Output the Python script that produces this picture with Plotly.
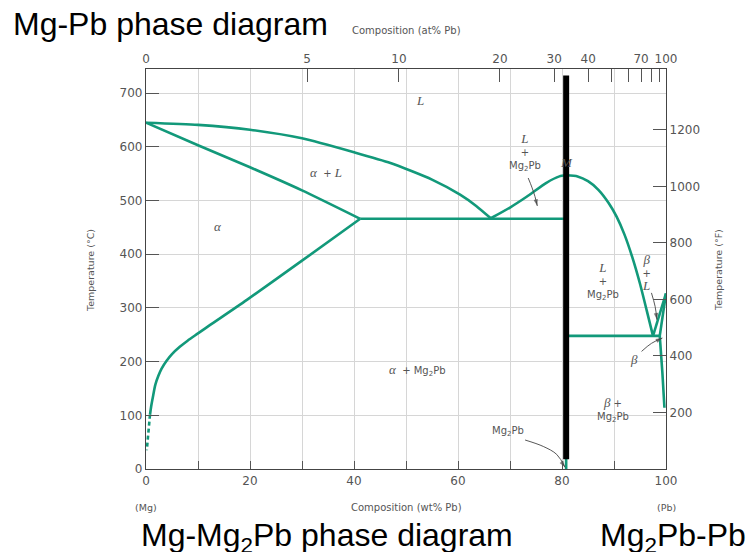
import plotly.graph_objects as go

# ---- Phase boundaries: composition in wt% Pb, temperature in degC ----
liq_mg_wt = [0, 10, 20, 30, 40, 47, 55, 60.4, 63.5, 66.3]
liq_mg_T = [645, 641, 632, 616, 590, 570, 539, 511, 490, 467]

sol_mg_wt = [0, 10, 20, 30, 41.2]
sol_mg_T = [645, 603, 562, 519, 466]

solv_mg_wt = [41.2, 30, 19.4, 12, 10, 8, 6.5, 5, 4, 3, 2.4, 1.8, 1.4, 1.0, 0.77]
solv_mg_T = [466, 388, 315, 266, 252.5, 239, 227.5, 214, 202, 187, 174, 157, 138, 117, 101]
solv_mg_dash_wt = [0.77, 0.45, 0.15]
solv_mg_dash_T = [101, 65, 35]

eut1_wt = [41.2, 80.8]
eut1_T = [466, 466]

liq_c1_wt = [66.3, 70, 73.2, 77, 79.5, 80.8]
liq_c1_T = [467, 487, 507, 533, 545, 547]

liq_c2_wt = [80.8, 83, 85, 87, 89, 90.5, 92, 93.5, 95, 96.3, 97.5]
liq_c2_T = [547, 545, 536, 520, 495, 470, 437, 395, 345, 295, 248]

eut2_wt = [80.8, 98.8]
eut2_T = [248, 248]

liq_pb_wt = [97.5, 100]
liq_pb_T = [248, 327]
sol_pb_wt = [98.8, 100]
sol_pb_T = [248, 327]
solv_pb_wt = [98.8, 99.3, 99.7]
solv_pb_T = [248, 180, 114]

compound_wt = [80.8, 80.8]
compound_T = [0, 547]

# heavy marker dividing the two sub-diagrams
divider_wt = [80.8, 80.8]
divider_T = [18, 733]

# ---- axes ----
x_range = [0, 100]
y_range = [0, 745]
f_range = [0, 1415]
wt_ticks = [0, 20, 40, 60, 80, 100]
wt_minor = [10, 30, 50, 70, 90]
c_ticks = [0, 100, 200, 300, 400, 500, 600, 700]
f_ticks = [200, 400, 600, 800, 1000, 1200]
at_ticks = [0, 5, 10, 20, 30, 40, 70, 100]
at_minor = [50, 60, 80, 90]

M_MG, M_PB = 24.305, 207.2


def at_to_wt(a):
    return 100.0 * a * M_PB / (a * M_PB + (100.0 - a) * M_MG)


GREEN = "#12997a"
TXT = "#555555"
SERIF = "Liberation Serif"
SANS = "DejaVu Sans"

fig = go.Figure()


def boundary(xs, ys, dash=None, shape="spline", smoothing=0.6):
    fig.add_trace(go.Scatter(x=xs, y=ys, mode="lines", line_shape=shape,
                             line=dict(color=GREEN, width=2.6, dash=dash, smoothing=smoothing),
                             hoverinfo="skip", showlegend=False))


for xs, ys in [(liq_mg_wt, liq_mg_T), (sol_mg_wt, sol_mg_T),
               (eut1_wt, eut1_T), (liq_c1_wt, liq_c1_T), (liq_c2_wt, liq_c2_T),
               (eut2_wt, eut2_T), (liq_pb_wt, liq_pb_T), (sol_pb_wt, sol_pb_T),
               (solv_pb_wt, solv_pb_T), (compound_wt, compound_T)]:
    boundary(xs, ys)
boundary(solv_mg_wt, solv_mg_T, smoothing=0.8)
boundary(solv_mg_dash_wt, solv_mg_dash_T, dash="4px,3px", shape="linear")

fig.add_trace(go.Scatter(x=divider_wt, y=divider_T, mode="lines",
                         line=dict(color="black", width=6),
                         hoverinfo="skip", showlegend=False))

# invisible traces that carry the secondary axes
fig.add_trace(go.Scatter(x=x_range, y=[0, 0], xaxis="x2", yaxis="y", mode="lines",
                         opacity=0, hoverinfo="skip", showlegend=False))
fig.add_trace(go.Scatter(x=x_range, y=f_range, xaxis="x", yaxis="y2", mode="lines",
                         opacity=0, hoverinfo="skip", showlegend=False))

# ---- pointer arrows (curved paths, head at last point) ----
arrow_paths = [
    ([73.5, 74.2, 74.8, 75.25], [542, 525, 507.6, 490]),
    ([97.2, 97.9, 98.25], [328, 303, 278]),
    ([95.3, 97.2, 99.3], [219, 234, 244]),
    ([72.9, 76.4, 79.0, 80.6], [54, 42, 27, 3]),
]
for xs, ys in arrow_paths:
    sizes = [0] * (len(xs) - 1) + [7]
    fig.add_trace(go.Scatter(x=xs, y=ys, mode="lines+markers", line_shape="spline",
                             line=dict(color="#444", width=0.9),
                             marker=dict(symbol="arrow", size=sizes, angleref="previous",
                                         color="#444", line=dict(width=0)),
                             hoverinfo="skip", showlegend=False))

# ---- region labels ----
def it(s):
    return f"<span style='font-family:{SERIF};font-style:italic;font-size:13px'>{s}</span>"


MG2PB = "Mg<sub>2</sub>Pb"
labels = [
    (it("L"), 52.7, 686),
    (it("α") + "  + " + it("L"), 34.6, 553),
    (it("α"), 13.8, 451),
    (it("α") + "  + " + MG2PB, 52.3, 185),
    (it("L") + "<br>+<br>" + MG2PB, 72.9, 591),
    (it("M"), 80.8, 570),
    (it("L") + "<br>+<br>" + MG2PB, 87.9, 351),
    (it("β") + "<br>+<br>" + it("L"), 96.3, 366),
    (it("β"), 93.8, 204),
    (it("β") + " +<br>" + MG2PB, 89.8, 111),
    (MG2PB, 69.6, 70),
]
annotations = []
for text, x, y in labels:
    annotations.append(dict(text=text, x=x, y=y, xref="x", yref="y", showarrow=False,
                            font=dict(family=SANS, size=10, color=TXT)))

# ---- titles and axis captions (paper coordinates) ----
captions = [
    ("Mg-Pb phase diagram", -0.2577, 1.112, "left", "middle", 0, 32, "black", "Liberation Sans"),
    ("Composition (at% Pb)", 0.5, 1.0975, "center", "middle", 0, 10, TXT, SANS),
    ("Mg-Mg<sub>2</sub>Pb phase diagram", -0.0115, -0.117, "left", "top", 0, 32, "black", "Liberation Sans"),
    ("Mg<sub>2</sub>Pb-Pb", 0.871, -0.117, "left", "top", 0, 32, "black", "Liberation Sans"),
    ("(Mg)", 0.0, -0.097, "center", "middle", 0, 9.5, TXT, SANS),
    ("Composition (wt% Pb)", 0.5, -0.097, "center", "middle", 0, 10, TXT, SANS),
    ("(Pb)", 1.0, -0.097, "center", "middle", 0, 9.5, TXT, SANS),
    ("Temperature (°C)", -0.1077, 0.4975, "center", "middle", -90, 9.5, TXT, SANS),
    ("Temperature (°F)", 1.1, 0.4975, "center", "middle", -90, 9.5, TXT, SANS),
]
for text, x, y, xa, ya, ang, size, col, fam in captions:
    annotations.append(dict(text=text, x=x, y=y, xref="paper", yref="paper",
                            xanchor=xa, yanchor=ya, textangle=ang, showarrow=False,
                            borderpad=0,
                            font=dict(family=fam, size=size, color=col)))

axis_common = dict(showline=True, linecolor="#444", linewidth=1.3, ticks="inside",
                   tickcolor="#555", tickwidth=1.2,
                   tickfont=dict(family=SANS, size=12, color=TXT), zeroline=False)

fig.update_layout(
    width=749, height=552,
    margin=dict(l=146, r=83, t=69, b=83),
    paper_bgcolor="white", plot_bgcolor="white",
    font=dict(family=SANS, color=TXT),
    annotations=annotations,
    xaxis=dict(range=x_range, tickmode="array", tickvals=wt_ticks,
               ticklen=8, showgrid=True, gridcolor="#d6d6d6", gridwidth=1.2,
               minor=dict(tickmode="array", tickvals=wt_minor, ticks="inside", ticklen=8,
                          tickcolor="#555", tickwidth=1.2, showgrid=True,
                          gridcolor="#d6d6d6", gridwidth=1.2),
               mirror=True, **axis_common),
    xaxis2=dict(range=x_range, overlaying="x", side="top", anchor="y",
                tickmode="array", tickvals=[at_to_wt(a) for a in at_ticks],
                ticktext=[str(a) for a in at_ticks],
                ticklen=13, showgrid=False,
                minor=dict(tickmode="array", tickvals=[at_to_wt(a) for a in at_minor],
                           ticks="inside", ticklen=13, tickcolor="#555", tickwidth=1.2,
                           showgrid=False),
                **axis_common),
    yaxis=dict(range=y_range, tickmode="array", tickvals=c_ticks, ticklen=13,
               showgrid=True, gridcolor="#d6d6d6", gridwidth=1.2, mirror=True,
               **axis_common),
    yaxis2=dict(range=f_range, overlaying="y", side="right", anchor="x",
                tickmode="array", tickvals=f_ticks, ticklen=13, showgrid=False,
                **axis_common),
)

fig.write_html("out.html")
